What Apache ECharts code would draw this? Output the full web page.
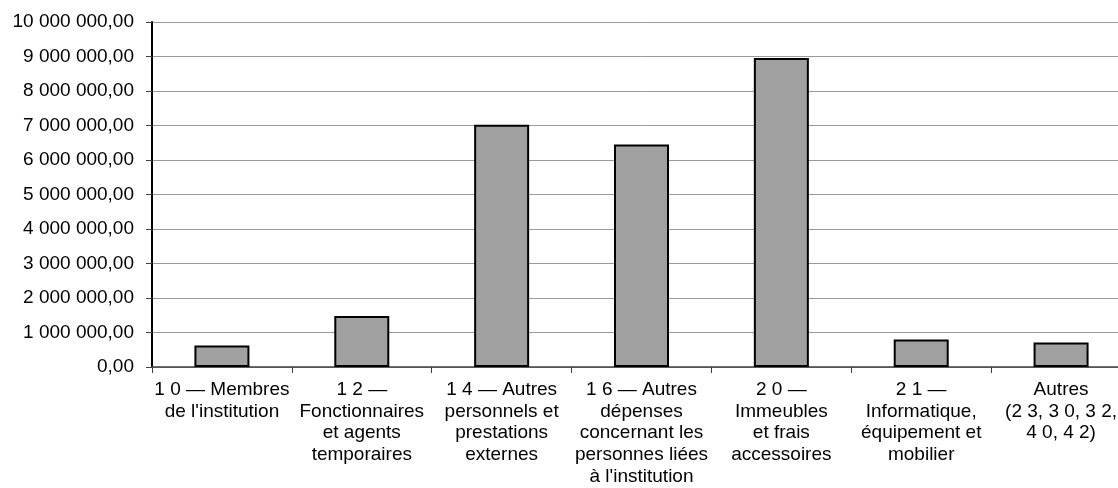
<!DOCTYPE html>
<html>
<head>
<meta charset="utf-8">
<script src="https://cdn.jsdelivr.net/npm/echarts@6/dist/echarts.min.js"></script>
<style>
  html, body { margin: 0; padding: 0; background: #ffffff; overflow: hidden; width: 1118px; height: 488px; }
  /* the plot runs slightly past the right edge of the page */
  #chart { width: 1140px; height: 488px; }
</style>
</head>
<body>
<div id="chart"></div>
<script>
// Budget headings (category labels, wrapped as printed)
const categories = [
  "1 0 — Membres\nde l'institution",
  "1 2 —\nFonctionnaires\net agents\ntemporaires",
  "1 4 — Autres\npersonnels et\nprestations\nexternes",
  "1 6 — Autres\ndépenses\nconcernant les\npersonnes liées\nà l'institution",
  "2 0 —\nImmeubles\net frais\naccessoires",
  "2 1 —\nInformatique,\néquipement et\nmobilier",
  "Autres\n(2 3, 3 0, 3 2,\n4 0, 4 2)"
];

// Amounts per heading
const amounts = [620000, 1480000, 7020000, 6450000, 8960000, 800000, 710000];

// Value axis range
const yMin = 0;
const yMax = 10000000;
const yStep = 1000000;

// "1 000 000,00" style formatting
function formatAmount(v) {
  const whole = Math.round(v).toString().replace(/\B(?=(\d{3})+(?!\d))/g, ' ');
  return whole + ',00';
}

const FONT = 'Liberation Sans, Arial, sans-serif';

const chart = echarts.init(document.getElementById('chart'), null, { renderer: 'canvas' });

chart.setOption({
  backgroundColor: '#ffffff',
  animation: false,
  textStyle: { fontFamily: FONT },
  grid: { left: 152, top: 22, right: 9, height: 345, containLabel: false },
  xAxis: {
    type: 'category',
    data: categories,
    axisLine: { show: true, lineStyle: { color: '#404040', width: 1.5 } },
    axisTick: { show: true, length: 6, lineStyle: { color: '#404040', width: 1 } },
    axisLabel: {
      interval: 0,
      margin: 12,
      color: '#000000',
      fontSize: 19,
      lineHeight: 21.7,
      align: 'center',
      fontFamily: FONT
    },
    splitLine: { show: false }
  },
  yAxis: {
    type: 'value',
    min: yMin,
    max: yMax,
    interval: yStep,
    axisLine: { show: true, lineStyle: { color: '#000000', width: 2 } },
    axisTick: { show: true, length: 6, lineStyle: { color: '#404040', width: 1 } },
    axisLabel: {
      margin: 18,
      color: '#000000',
      fontSize: 19,
      fontFamily: FONT,
      formatter: formatAmount
    },
    splitLine: { show: true, lineStyle: { color: '#9a9a9a', width: 1 } }
  },
  series: [{
    type: 'bar',
    data: amounts,
    barWidth: 55,
    itemStyle: {
      color: '#a0a0a0',
      borderColor: '#000000',
      borderWidth: 2
    }
  }]
});
</script>
</body>
</html>
